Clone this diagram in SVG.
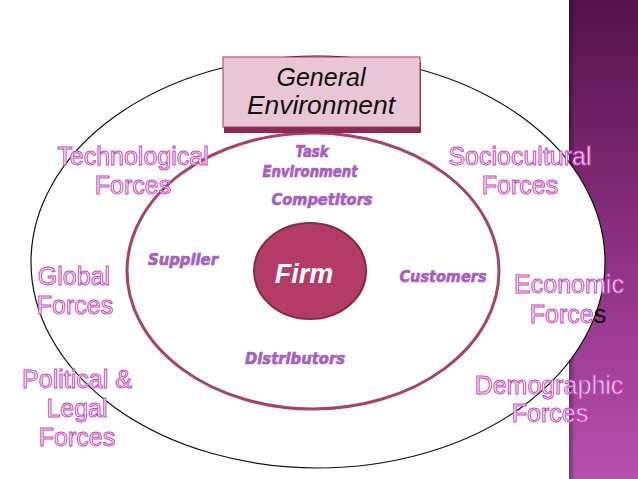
<svg xmlns="http://www.w3.org/2000/svg" width="638" height="479" viewBox="0 0 638 479">
<defs>
<linearGradient id="band" x1="0" y1="0" x2="0" y2="1">
<stop offset="0" stop-color="#551348"/>
<stop offset="0.5" stop-color="#8a2f80"/>
<stop offset="1" stop-color="#b84fae"/>
</linearGradient>
<linearGradient id="shadow" x1="0" y1="0" x2="1" y2="0">
<stop offset="0" stop-color="#000" stop-opacity="0.35"/>
<stop offset="1" stop-color="#000" stop-opacity="0"/>
</linearGradient>
<style>
.force{font-family:"Liberation Sans","Open Sans",sans-serif;font-size:25px;fill:#fff2fc;stroke:#c64cbb;stroke-width:1;text-anchor:middle}
.task{font-family:"DejaVu Sans",sans-serif;font-weight:bold;font-style:italic;fill:#a460c5;stroke:#a460c5;stroke-width:0.7;text-anchor:middle}
.gen{font-family:"Liberation Sans","Open Sans",sans-serif;font-style:italic;font-size:25px;fill:#111;text-anchor:middle}
</style>
</defs>
<rect width="638" height="479" fill="#fff"/>
<g id="band-bg">
<rect x="569" y="0" width="69" height="479" fill="url(#band)"/>
<rect x="569" y="0" width="6" height="479" fill="url(#shadow)"/>
</g>
<g id="general-environment-ellipse">
<ellipse cx="318" cy="262" rx="287" ry="206" fill="#fff" stroke="#111" stroke-width="1.2"/>
</g>
<g id="task-environment-ellipse">
<ellipse cx="313" cy="271" rx="186" ry="138" fill="none" stroke="#a8426a" stroke-width="3"/>
</g>
<g id="firm">
<ellipse cx="310" cy="271" rx="56" ry="48" fill="#b33b66" stroke="#86294d" stroke-width="2"/>
<text x="304" y="283" font-family="Liberation Sans,Open Sans,sans-serif" font-style="italic" font-weight="bold" font-size="27" fill="#fff" text-anchor="middle">Firm</text>
</g>
<g id="general-environment">
<rect x="224" y="62" width="197" height="71" fill="#8a2a55"/>
<rect x="223" y="57" width="197" height="70" fill="#e9c6d6" stroke="#9c3d69" stroke-width="1"/>
<text class="gen" x="321" y="86">General</text>
<text class="gen" x="321" y="114" textLength="148" lengthAdjust="spacingAndGlyphs">Environment</text>
</g>
<g id="technological">
<text class="force" x="133" y="165">Technological</text>
<text class="force" x="133" y="194">Forces</text>
</g>
<g id="global">
<text class="force" x="74" y="285">Global</text>
<text class="force" x="75" y="314">Forces</text>
</g>
<g id="political">
<text class="force" x="77" y="388">Political &amp;</text>
<text class="force" x="77" y="417">Legal</text>
<text class="force" x="77" y="446">Forces</text>
</g>
<g id="sociocultural">
<text class="force" x="520" y="165">Sociocultural</text>
<text class="force" x="520" y="194">Forces</text>
</g>
<g id="economic">
<text class="force" x="569" y="293">Economic</text>
<text class="force" x="568" y="323">Force<tspan style="fill:#000;stroke:none">s</tspan></text>
</g>
<g id="demographic">
<text class="force" x="549" y="394">Demographic</text>
<text class="force" x="550" y="422">Forces</text>
</g>
<g id="task-environment">
<text class="task" x="312" y="157" font-size="15" textLength="33" lengthAdjust="spacingAndGlyphs">Task</text>
<text class="task" x="310" y="177" font-size="15" textLength="95" lengthAdjust="spacingAndGlyphs">Environment</text>
</g>
<g id="competitors"><text class="task" x="322" y="205" font-size="16.5" textLength="101" lengthAdjust="spacingAndGlyphs">Competitors</text></g>
<g id="supplier"><text class="task" x="183" y="265" font-size="16.5" textLength="70" lengthAdjust="spacingAndGlyphs">Supplier</text></g>
<g id="customers"><text class="task" x="443" y="282" font-size="16.5" textLength="87" lengthAdjust="spacingAndGlyphs">Customers</text></g>
<g id="distributors"><text class="task" x="295" y="364" font-size="16.5" textLength="100" lengthAdjust="spacingAndGlyphs">Distributors</text></g>
</svg>
